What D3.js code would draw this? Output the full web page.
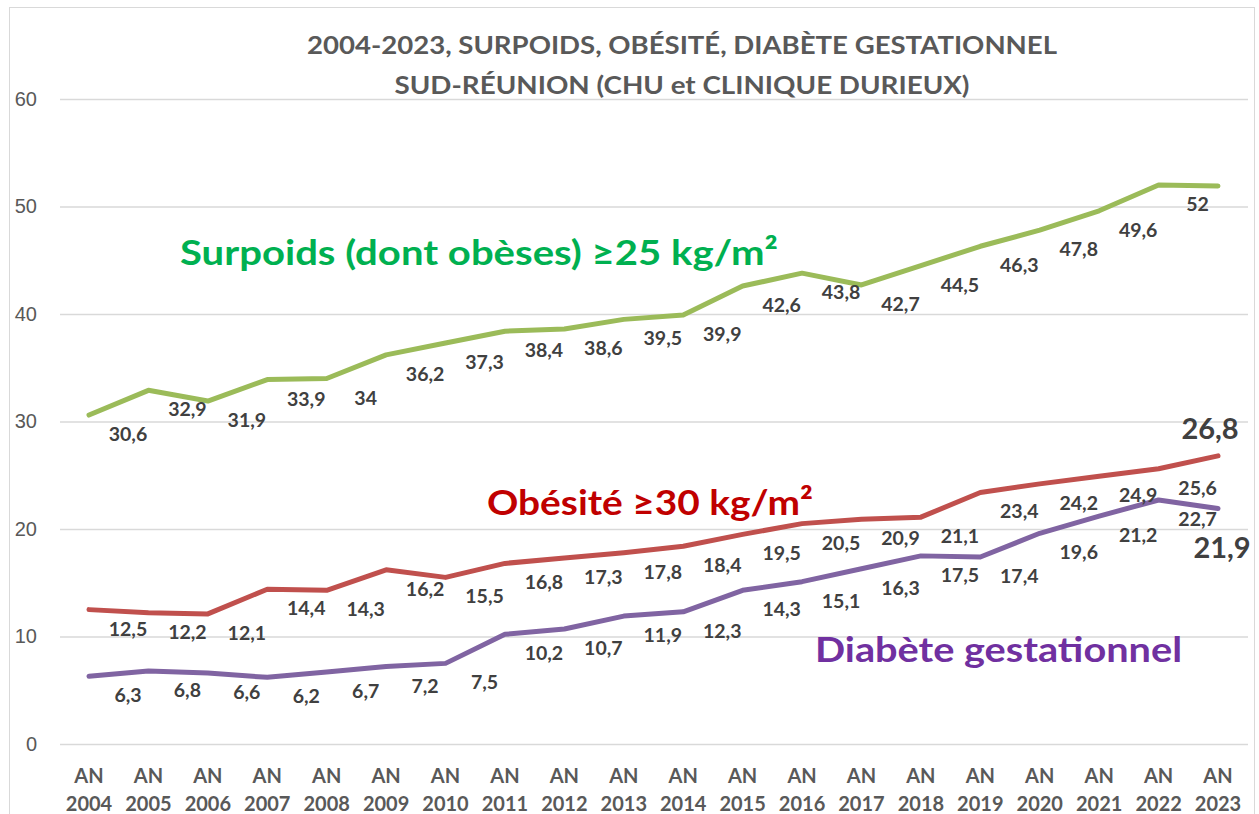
<!DOCTYPE html>
<html>
<head>
<meta charset="utf-8">
<script src="https://cdn.jsdelivr.net/npm/d3@7"></script>
<style>
	body { margin: 0; background: #fff; }
	svg { display: block; font-family: Lato, "Open Sans", sans-serif; }
</style>
</head>
<body>
<svg id="chart" width="1259" height="814"></svg>
<script>
var years = ['2004','2005','2006','2007','2008','2009','2010','2011','2012','2013',
	'2014','2015','2016','2017','2018','2019','2020','2021','2022','2023'];
var surpoids = [30.6,32.9,31.9,33.9,34,36.2,37.3,38.4,38.6,39.5,39.9,42.6,43.8,42.7,44.5,46.3,47.8,49.6,52,51.9];
var obesite = [12.5,12.2,12.1,14.4,14.3,16.2,15.5,16.8,17.3,17.8,18.4,19.5,20.5,20.9,21.1,23.4,24.2,24.9,25.6,26.8];
var diabete = [6.3,6.8,6.6,6.2,6.7,7.2,7.5,10.2,10.7,11.9,12.3,14.3,15.1,16.3,17.5,17.4,19.6,21.2,22.7,21.9];
var yTicks = [0,10,20,30,40,50,60];
var titleLines = ['2004-2023, SURPOIDS, OBÉSITÉ, DIABÈTE GESTATIONNEL', 'SUD-RÉUNION (CHU et CLINIQUE DURIEUX)'];

var svg = d3.select('#chart');
var fmt = function(v) { return String(v).replace('.', ','); };

var x = d3.scalePoint().domain(years).range([89, 1218]);
var y = d3.scaleLinear().domain([0, 60]).range([744, 99]);

// outer frame
svg.append('rect')
	.attr('x', 9.5).attr('y', 7.5)
	.attr('width', 1245).attr('height', 830)
	.attr('fill', 'none').attr('stroke', '#d9d9d9');

// gridlines + y labels
var yAxis = svg.append('g').attr('transform', 'translate(60,0)')
	.call(d3.axisLeft(y).tickValues(yTicks).tickSize(-1188).tickPadding(23).tickFormat(d3.format('d')));
yAxis.select('.domain').remove();
yAxis.selectAll('line').attr('stroke', '#d9d9d9').attr('stroke-width', 1.3);
yAxis.selectAll('text').attr('fill', '#595959').style('font-size', '20px').attr('text-anchor', 'end');

// x labels
var xl = svg.append('g').selectAll('text').data(years).enter().append('text')
	.attr('x', function(d) { return x(d); })
	.attr('text-anchor', 'middle')
	.attr('fill', '#595959')
	.style('font-size', '20px').style('font-weight', 'bold');
xl.append('tspan').attr('x', function(d) { return x(d); }).attr('y', 783).text('AN');
xl.append('tspan').attr('x', function(d) { return x(d); }).attr('y', 811).text(function(d) { return d; });

// title
svg.selectAll('.title').data(titleLines).enter().append('text')
	.attr('class', 'title')
	.attr('x', 682).attr('y', function(d, i) { return 54 + i * 40; })
	.attr('text-anchor', 'middle')
	.attr('fill', '#595959')
	.attr('textLength', function(d, i) { return i ? 575 : 750; })
	.attr('lengthAdjust', 'spacingAndGlyphs')
	.style('font-size', '25px').style('font-weight', 'bold')
	.text(function(d) { return d; });

var series = [
	{ values: surpoids, color: '#9bbb59' },
	{ values: obesite, color: '#c0504d' },
	{ values: diabete, color: '#8064a2' }
];

var line = d3.line()
	.x(function(d, i) { return x(years[i]); })
	.y(function(d) { return y(d); });

series.forEach(function(s) {
	svg.append('path')
		.datum(s.values)
		.attr('d', line)
		.attr('fill', 'none')
		.attr('stroke', s.color)
		.attr('stroke-width', 5)
		.attr('stroke-linejoin', 'round')
		.attr('stroke-linecap', 'round');
});

// data labels (last point of green has none, last of red/purple are large)
function labels(vals, n) {
	svg.append('g').selectAll('text').data(vals.slice(0, n)).enter().append('text')
		.attr('x', function(d, i) { return x(years[i]) + 39; })
		.attr('y', function(d) { return y(d) + 26; })
		.attr('text-anchor', 'middle')
		.attr('fill', '#404040')
		.style('font-size', '19.5px').style('font-weight', 'bold')
		.text(fmt);
}
labels(surpoids, 19);
labels(obesite, 19);
labels(diabete, 19);

var last = years.length - 1;
svg.append('text')
	.attr('x', x(years[last]) - 8).attr('y', y(obesite[last]) - 17)
	.attr('text-anchor', 'middle').attr('fill', '#404040')
	.style('font-size', '29px').style('font-weight', 'bold')
	.text(fmt(obesite[last]));
svg.append('text')
	.attr('x', x(years[last]) + 4).attr('y', y(diabete[last]) + 49)
	.attr('text-anchor', 'middle').attr('fill', '#404040')
	.style('font-size', '29px').style('font-weight', 'bold')
	.text(fmt(diabete[last]));

// series names
var names = [
	{ text: 'Surpoids (dont obèses) ≥25 kg/m²', x: 180, y: 265, w: 598, color: '#00b050' },
	{ text: 'Obésité ≥30 kg/m²', x: 487, y: 515, w: 326, color: '#c00000' },
	{ text: 'Diabète gestationnel', x: 815, y: 662, w: 367, color: '#7030a0' }
];
svg.selectAll('.sname').data(names).enter().append('text')
	.attr('class', 'sname')
	.attr('x', function(d) { return d.x; })
	.attr('y', function(d) { return d.y; })
	.attr('fill', function(d) { return d.color; })
	.attr('textLength', function(d) { return d.w; })
	.attr('lengthAdjust', 'spacingAndGlyphs')
	.style('font-size', '35px').style('font-weight', 'bold')
	.text(function(d) { return d.text; });
</script>
</body>
</html>
